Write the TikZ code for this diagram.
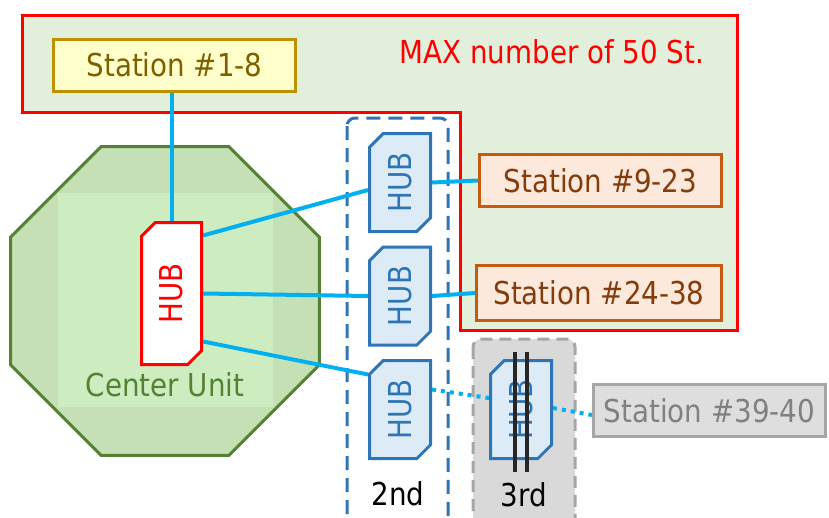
\documentclass[tikz,border=0pt]{standalone}
\usepackage{fontspec}
\usepackage{graphicx}
\setmainfont{DejaVu Sans}[FakeStretch=0.88]
\usetikzlibrary{
  shapes.geometric, shapes.misc,
  positioning, backgrounds, calc
}
\definecolor{zonefill}{HTML}{E2EFDA}
\definecolor{linkcyan}{HTML}{00B0F0}
\definecolor{cugreen}{HTML}{548235}
\definecolor{cufill}{HTML}{C5E0B4}
\definecolor{cuinner}{HTML}{CDEDC0}
\definecolor{hubblue}{HTML}{2E75B6}
\definecolor{hubfill}{HTML}{DDEBF7}
\definecolor{stafill}{HTML}{FFFFCC}
\definecolor{staborder}{HTML}{BF9000}
\definecolor{statext}{HTML}{7F6000}
\definecolor{stbfill}{HTML}{FCE9DB}
\definecolor{stbborder}{HTML}{C55A11}
\definecolor{stbtext}{HTML}{843C0C}
\definecolor{stcfill}{HTML}{DEDEDE}
\definecolor{stcborder}{HTML}{A6A6A6}
\definecolor{stctext}{HTML}{808080}
\definecolor{lvlgray}{HTML}{D9D9D9}
\newcommand\diagfont{\fontsize{31.5}{36}\selectfont}
\tikzset{
  stbase/.style={rectangle,line width=3pt,inner sep=0pt,font=\diagfont,
    minimum height=52pt},
  stanode/.style={stbase,fill=stafill,draw=staborder,text=statext,minimum width=242pt},
  stbnode/.style={stbase,fill=stbfill,draw=stbborder,text=stbtext},
  stcnode/.style={stbase,fill=stcfill,draw=stcborder,text=stctext},
  hubnode/.style={chamfered rectangle,chamfered rectangle corners={north west,south east},
    chamfered rectangle xsep=10pt,chamfered rectangle angle=45,line width=3pt,
    inner sep=0pt,font=\diagfont,minimum width=61pt,minimum height=98pt},
  lvlhub/.style={hubnode,fill=hubfill,draw=hubblue,text=hubblue},
  cuhub/.style={hubnode,fill=white,draw=red,text=red,minimum width=60pt,minimum height=142pt},
  cunode/.style={regular polygon,regular polygon sides=8,minimum size=334pt,inner sep=0pt,
    fill=cufill,draw=cugreen,line width=3pt},
  link/.style={draw=linkcyan,line width=4pt},
  dotlink/.style={link,dash pattern=on 4pt off 5pt},
  lbl/.style={font=\diagfont,anchor=base,inner sep=0pt}
}

\begin{document}
\begin{tikzpicture}[x=1pt,y=-1pt]
  \useasboundingbox (0,0) rectangle (829,517);
  \clip (0,0) rectangle (829,517);

  % zone of the first line (up to 50 stations)
  \begin{scope}[on background layer]
    \draw[fill=zonefill,draw=red,line width=3pt]
      (22,15) -- (737,15) -- (737,330) -- (460,330) -- (460,112) -- (22,112) -- cycle;
    % center unit
    \node[cunode] (unit) at (165,301) {};
    \fill[cuinner] ([shift={(-107pt,108pt)}]unit.center) rectangle ([shift={(108pt,-106pt)}]unit.center);
    % 2nd / 3rd level frames
    \draw[draw=hubblue,line width=3pt,dash pattern=on 14pt off 8pt,rounded corners=8pt]
      (347,118) rectangle (448,560);
    \draw[fill=lvlgray,draw=stcborder,line width=3pt,dash pattern=on 12pt off 7pt,rounded corners=8pt]
      (473,339) rectangle (575,560);
  \end{scope}

  \node[lbl,text=red] (maxlbl) at (552,63) {MAX number of 50 St.};
  \node[lbl,text=cugreen] (cutxt) at (165,396) {Center Unit};
  \node[lbl] (lvl2) at (398,505) {2nd};
  \node[lbl] (lvl3) at (524,506) {3rd};

  % hubs
  \node[cuhub] (cu) at (171.5,293.5) {\rotatebox{90}{HUB}};
  \node[lvlhub] (h1) at (400,182.5) {\rotatebox{90}{HUB}};
  \node[lvlhub,below=12.5pt of h1] (h2) {\rotatebox{90}{HUB}};
  \node[lvlhub,below=12.5pt of h2] (h3) {\rotatebox{90}{HUB}};
  \node[lvlhub] (h4) at (521,409.5) {\rotatebox{90}{HUB}};

  % stations
  \node[stanode] (st1) at (174.5,65) {Station \#1-8};
  \node[stbnode,minimum width=242pt] (st9) at (600.5,180.5) {Station \#9-23};
  \node[stbnode,minimum width=245pt,minimum height=55pt] (st24) at (599,293) {Station \#24-38};
  \node[stcnode,minimum width=232pt] (st39) at (709.5,410.5) {Station \#39-40};

  \begin{scope}[on background layer]
    \draw[link] (cu.north |- st1.south) -- (cu.north);
    \draw[link] ([yshift=58pt]cu.east) -- ([yshift=-7.5pt]h1.west);
    \draw[link] (h1.east) -- (st9.west);
    \draw[link] (cu.east) -- (h2.west);
    \draw[link] (h2.east) -- (st24.west);
    \draw[link] ([yshift=-48pt]cu.east) -- ([yshift=35pt]h3.west);
    \draw[dotlink] ([yshift=20pt]h3.east) -- ([yshift=11.5pt]h4.west);
    \draw[dotlink] ([yshift=1.5pt]h4.east) -- ([yshift=-4.5pt]st39.west);
  \end{scope}

  % 3rd level not in use
  \draw[line width=4pt,draw=black!85] ([shift={(-6pt,7pt)}]h4.north) -- ([shift={(-6pt,-12pt)}]h4.south);
  \draw[line width=4pt,draw=black!85] ([shift={(6pt,7pt)}]h4.north) -- ([shift={(6pt,-12pt)}]h4.south);

\end{tikzpicture}
\end{document}
